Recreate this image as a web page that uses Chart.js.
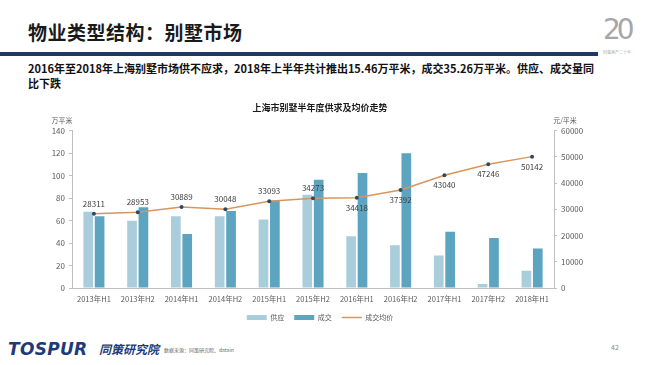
<!DOCTYPE html>
<html>
<head>
<meta charset="utf-8">
<script src="https://cdn.jsdelivr.net/npm/chart.js@4"></script>
<style>
  html, body { margin: 0; padding: 0; background: #fff; }
  body { width: 650px; height: 365px; position: relative; overflow: hidden; font-family: "Noto Sans CJK SC", "Noto Sans", sans-serif; }
  .title { position: absolute; left: 28px; top: 18px; font-size: 19px; font-weight: bold; color: #1a1a1a; letter-spacing: 0.5px; }
  .bar { position: absolute; left: 0; top: 52px; width: 598px; height: 4px; background: #1f3864; }
  .sub { position: absolute; left: 28px; top: 61px; font-size: 11px; font-weight: bold; color: #111; line-height: 15px; }
  .logo { position: absolute; left: 603px; top: 13px; font-size: 28px; color: #a6a6a6; font-family: "DejaVu Sans", sans-serif; letter-spacing: -4px; }
  .logo-sub { position: absolute; left: 603px; top: 49px; font-size: 4px; color: #aaa; }
  .chart-box { position: absolute; left: 40px; top: 95px; width: 560px; height: 243px; }
  .foot { position: absolute; left: 8px; top: 339px; font-size: 17px; font-weight: bold; font-style: italic; color: #1f3a7a; font-family: "DejaVu Sans", sans-serif; letter-spacing: 0.3px; }
  .foot-cn { position: absolute; left: 99px; top: 340px; font-size: 12px; font-weight: bold; font-style: italic; color: #1f3a7a; }
  .src { position: absolute; left: 164px; top: 346px; font-size: 5px; color: #666; }
  .page { position: absolute; left: 611px; top: 342px; font-size: 7px; color: #888; }
</style>
</head>
<body>
<div class="title">物业类型结构：别墅市场</div>
<div class="bar"></div>
<div class="sub">2016年至2018年上海别墅市场供不应求，2018年上半年共计推出15.46万平米，成交35.26万平米。供应、成交量同<br>比下跌</div>
<div class="logo">20</div>
<div class="logo-sub">同策地产二十年</div>
<div class="chart-box"><canvas id="chart1"></canvas></div>
<div class="foot">TOSPUR</div>
<div class="foot-cn">同策研究院</div>
<div class="src">数据来源：同策研究院、datain</div>
<div class="page">42</div>
<script>
const categories = ["2013年H1", "2013年H2", "2014年H1", "2014年H2", "2015年H1", "2015年H2",
  "2016年H1", "2016年H2", "2017年H1", "2017年H2", "2018年H1"];
const supply = [68, 60, 64, 64, 61, 83, 46, 38, 29, 3.5, 15.46];
const deals = [64, 72, 48, 68.5, 78, 96.5, 102.5, 120, 50, 44.5, 35.26];
const avgPrice = [28311, 28953, 30889, 30048, 33093, 34273, 34418, 37392, 43040, 47246, 50142];
// which price labels sit under the point
const labelBelow = [false, false, false, false, false, false, true, true, true, true, true];

const tickFont = { family: "Noto Sans CJK SC", size: 8 };

const extraText = {
  id: "extraText",
  beforeDraw(chart) {
    // pull the legend up a little closer to the axis labels
    if (!chart.$legendMoved) {
      chart.legend.top -= 7;
      chart.legend.bottom -= 7;
      chart.$legendMoved = true;
    }
  },
  afterDatasetsDraw(chart) {
    const ctx = chart.ctx;
    const area = chart.chartArea;
    ctx.save();
    ctx.font = "7px 'Noto Sans CJK SC'";
    ctx.fillStyle = "#595959";
    ctx.textAlign = "center";
    ctx.textBaseline = "middle";
    ctx.fillText("万平米", area.left - 10, area.top - 10);
    ctx.fillText("元/平米", area.right + 11, area.top - 10);

    const meta = chart.getDatasetMeta(2);
    ctx.font = "8px 'Noto Sans CJK SC'";
    ctx.fillStyle = "#404040";
    meta.data.forEach((pt, i) => {
      const dy = labelBelow[i] ? 10 : -10;
      ctx.fillText(avgPrice[i], pt.x, pt.y + dy);
    });
    ctx.restore();
  }
};

const chart1 = new Chart(document.getElementById("chart1"), {
  type: "bar",
  data: {
    labels: categories,
    datasets: [
      {
        label: "供应",
        data: supply,
        backgroundColor: "#a9cddb",
        yAxisID: "y",
        order: 2,
        categoryPercentage: 0.52,
        barPercentage: 0.85,
      },
      {
        label: "成交",
        data: deals,
        backgroundColor: "#5ca4bf",
        yAxisID: "y",
        order: 2,
        categoryPercentage: 0.52,
        barPercentage: 0.85,
      },
      {
        type: "line",
        label: "成交均价",
        data: avgPrice,
        borderColor: "#d9955b",
        backgroundColor: "#2e4a62",
        borderWidth: 1.5,
        pointRadius: 2,
        pointBorderWidth: 0,
        pointBackgroundColor: "#2e4a62",
        tension: 0,
        yAxisID: "y1",
        order: 1,
      },
    ],
  },
  options: {
    responsive: true,
    maintainAspectRatio: false,
    animation: false,
    layout: { padding: { left: 0, right: 0, top: 0, bottom: 0 } },
    plugins: {
      title: {
        display: true,
        text: "上海市别墅半年度供求及均价走势",
        color: "#1a1a1a",
        font: { family: "Noto Sans CJK SC", size: 9, weight: "bold" },
        padding: { top: 7, bottom: 18 },
      },
      legend: {
        position: "bottom",
        labels: {
          usePointStyle: true,
          pointStyleWidth: 20,
          boxHeight: 5,
          boxWidth: 20,
          color: "#595959",
          font: { family: "Noto Sans CJK SC", size: 7 },
          padding: 10,
          generateLabels(chart) {
            const items = Chart.defaults.plugins.legend.labels.generateLabels(chart);
            items.sort((a, b) => a.datasetIndex - b.datasetIndex);
            items.forEach((it) => {
              if (it.datasetIndex === 2) {
                it.pointStyle = "line";
                it.strokeStyle = "#d9955b";
                it.lineWidth = 1.5;
              } else {
                it.pointStyle = "rect";
                it.lineWidth = 0;
              }
            });
            return items;
          },
        },
      },
      tooltip: { enabled: false },
    },
    scales: {
      x: {
        grid: { display: false, drawTicks: false },
        border: { display: true, color: "#bfbfbf" },
        ticks: { color: "#595959", font: { family: "Noto Sans CJK SC", size: 7.5 }, maxRotation: 0, autoSkip: false, padding: 7 },
      },
      y: {
        position: "left",
        min: 0,
        max: 140,
        ticks: { stepSize: 20, color: "#595959", font: tickFont, padding: 4, callback: (v) => String(v) },
        grid: { drawOnChartArea: false, drawTicks: true, tickLength: 3, color: "#bfbfbf" },
        border: { color: "#bfbfbf" },
        afterFit(scale) { scale.width = 32; },
      },
      y1: {
        position: "right",
        min: 0,
        max: 60000,
        ticks: { stepSize: 10000, color: "#595959", font: tickFont, padding: 4, callback: (v) => String(v) },
        grid: { drawOnChartArea: false, drawTicks: true, tickLength: 3, color: "#bfbfbf" },
        border: { color: "#bfbfbf" },
        afterFit(scale) { scale.width = 46; },
      },
    },
  },
  plugins: [extraText],
});
</script>
</body>
</html>
